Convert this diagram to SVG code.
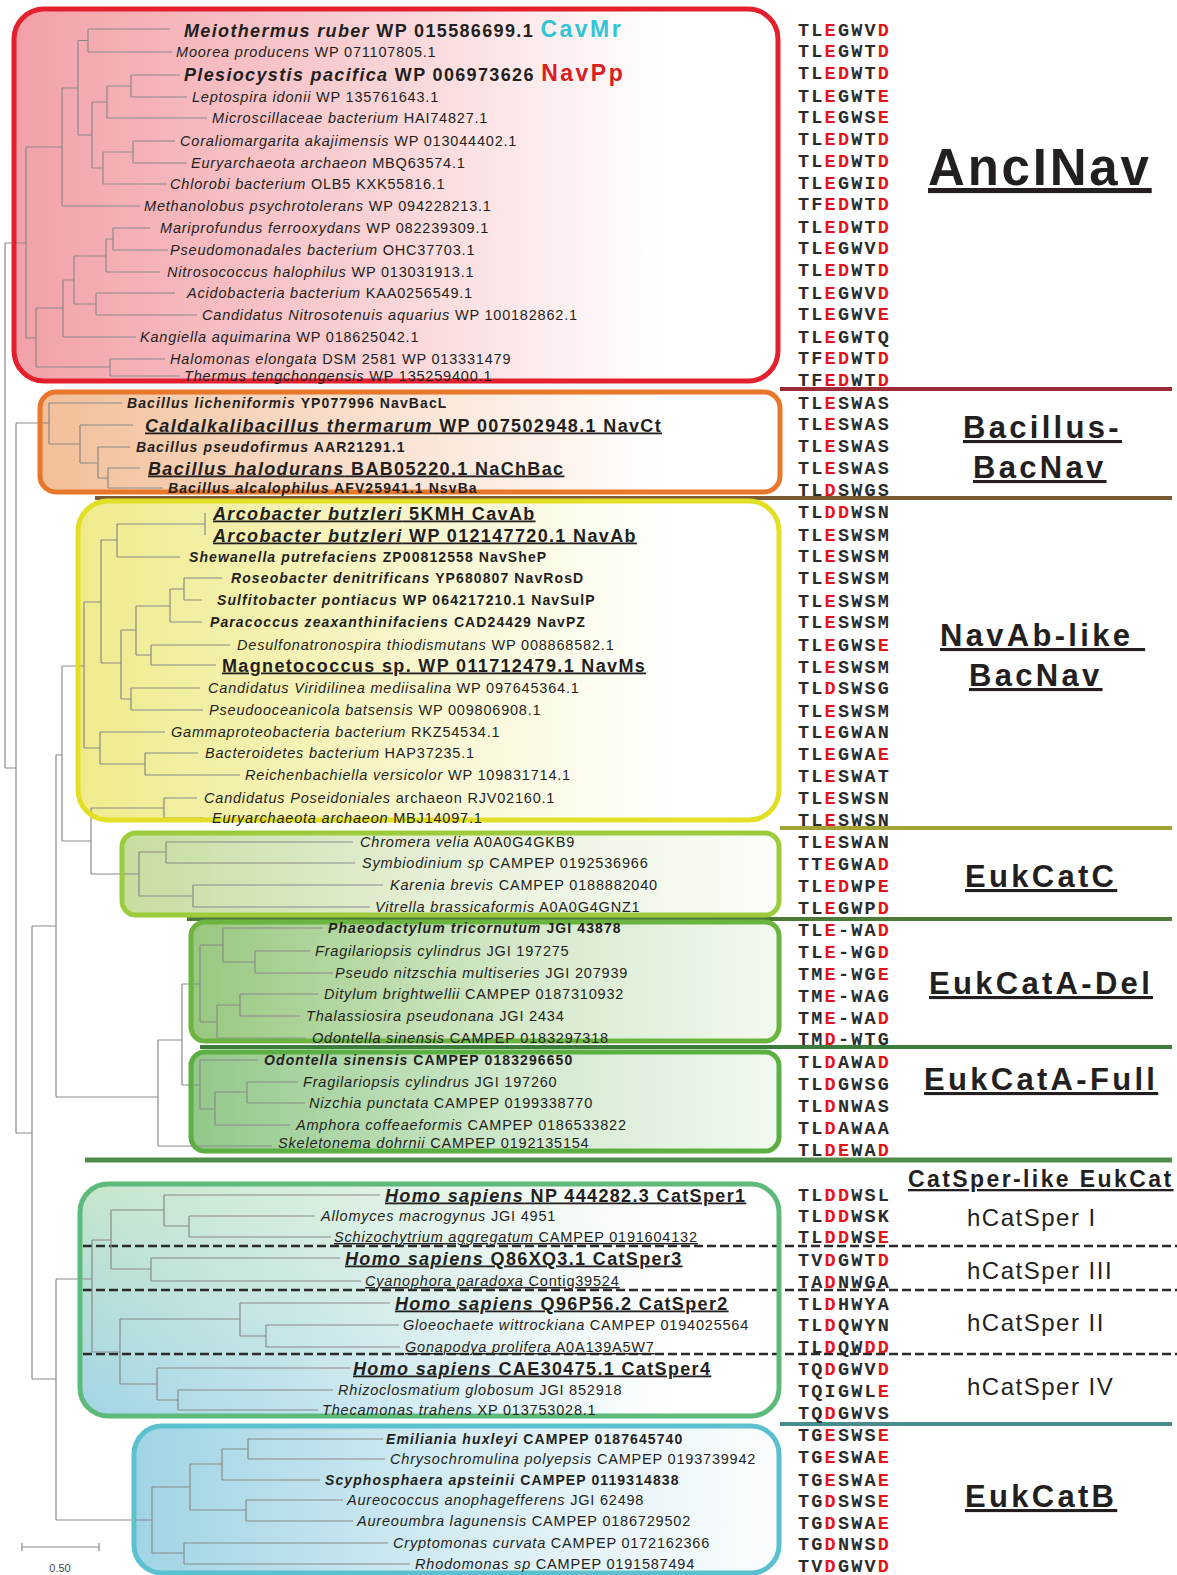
<svg xmlns="http://www.w3.org/2000/svg" width="1177" height="1575" viewBox="0 0 1177 1575">
<style>
.t{font-family:"Liberation Sans",Arial,sans-serif;font-size:14.5px;letter-spacing:0.8px;fill:#231f20}
.i{font-style:italic}
.b{font-weight:bold;font-size:14px;letter-spacing:1.1px}
.B{font-weight:bold;font-size:18px;letter-spacing:1.35px}
.u{text-decoration:underline}
.seq{font-family:"Liberation Mono","Courier New",monospace;font-weight:bold;font-size:18.5px;letter-spacing:2.2px;fill:#2b2b2b}
.r{fill:#e3141b}
.h{font-family:"Liberation Sans",Arial,sans-serif;font-weight:bold;fill:#231f20;text-decoration:underline;font-size:31px;letter-spacing:3.3px}
.hs{font-family:"Liberation Sans",Arial,sans-serif;fill:#231f20;font-size:24px;letter-spacing:1.5px}
.tree{stroke:#8a8a8a;stroke-width:1.2;fill:none}
.box{fill:none;stroke-width:5}
.sep{stroke-width:4}
.dash{stroke:#2b2b2b;stroke-width:2.5;stroke-dasharray:9 4}
</style>
<defs>
<linearGradient id="gAnc" x1="0" y1="0" x2="1" y2="0"><stop offset="0" stop-color="#f2a0a7"/><stop offset="0.5" stop-color="#f9d5d8"/><stop offset="0.85" stop-color="#ffffff"/></linearGradient>
<linearGradient id="gBac" x1="0" y1="0" x2="1" y2="0"><stop offset="0" stop-color="#f2bf98"/><stop offset="0.5" stop-color="#fae4d5"/><stop offset="0.85" stop-color="#ffffff"/></linearGradient>
<linearGradient id="gNav" x1="0" y1="0" x2="1" y2="0"><stop offset="0" stop-color="#efeb8c"/><stop offset="0.5" stop-color="#f8f6cf"/><stop offset="0.85" stop-color="#ffffff"/></linearGradient>
<linearGradient id="gC" x1="0" y1="0" x2="1" y2="0"><stop offset="0" stop-color="#c6dd9f"/><stop offset="0.5" stop-color="#e7f0d9"/><stop offset="1" stop-color="#fbfdf8"/></linearGradient>
<linearGradient id="gDel" x1="0" y1="0" x2="1" y2="0"><stop offset="0" stop-color="#98c87f"/><stop offset="0.55" stop-color="#d4e8c9"/><stop offset="1" stop-color="#f3f9f0"/></linearGradient>
<linearGradient id="gFull" x1="0" y1="0" x2="1" y2="0"><stop offset="0" stop-color="#92c889"/><stop offset="0.55" stop-color="#d0e8cc"/><stop offset="1" stop-color="#f3f9f1"/></linearGradient>
<linearGradient id="gCatV" x1="0" y1="0" x2="0" y2="1"><stop offset="0" stop-color="#c6e6cb"/><stop offset="1" stop-color="#a2d5e6"/></linearGradient>
<linearGradient id="gW" x1="0" y1="0" x2="1" y2="0"><stop offset="0" stop-color="#ffffff" stop-opacity="0"/><stop offset="0.3" stop-color="#ffffff" stop-opacity="0.3"/><stop offset="0.85" stop-color="#ffffff" stop-opacity="1"/></linearGradient>
<linearGradient id="gB" x1="0" y1="0" x2="1" y2="0"><stop offset="0" stop-color="#a0d4e4"/><stop offset="0.5" stop-color="#d5ecf3"/><stop offset="1" stop-color="#fbfdfe"/></linearGradient>
</defs>
<rect x="0" y="0" width="1177" height="1575" fill="#ffffff"/>

<g id="clade-fills">
<rect x="14" y="9" width="764" height="372" rx="30" fill="url(#gAnc)"/>
<rect x="40" y="392" width="740" height="100" rx="16" fill="url(#gBac)"/>
<rect x="78" y="501" width="701" height="319" rx="30" fill="url(#gNav)"/>
<rect x="122" y="833" width="657" height="82" rx="14" fill="url(#gC)"/>
<rect x="191" y="922" width="588" height="119" rx="14" fill="url(#gDel)"/>
<rect x="191" y="1052" width="588" height="99" rx="14" fill="url(#gFull)"/>
<rect x="80" y="1184" width="699" height="232" rx="28" fill="url(#gCatV)"/>
<rect x="80" y="1184" width="699" height="232" rx="28" fill="url(#gW)"/>
<rect x="134" y="1426" width="645" height="147" rx="28" fill="url(#gB)"/>
</g>

<g id="separators">
<line class="sep" x1="780" y1="389" x2="1172" y2="389" stroke="#9e2a36"/>
<line class="sep" x1="95" y1="498" x2="1172" y2="498" stroke="#7b5a33"/>
<line class="sep" x1="780" y1="828" x2="1172" y2="828" stroke="#a3a336"/>
<line class="sep" x1="187" y1="919" x2="1172" y2="919" stroke="#4b7b37"/>
<line class="sep" x1="200" y1="1047" x2="1172" y2="1047" stroke="#3b7b3b"/>
<line x1="85" y1="1160" x2="1172" y2="1160" stroke="#4e8e4a" stroke-width="5"/>
<line class="sep" x1="780" y1="1424" x2="1172" y2="1424" stroke="#4a8b8e"/>
<line class="dash" x1="83" y1="1246" x2="1177" y2="1246"/>
<line class="dash" x1="83" y1="1290" x2="1177" y2="1290"/>
<line class="dash" x1="83" y1="1354" x2="1177" y2="1354"/>
</g>

<g id="connectors">
<path class="tree" d="M88 29H170 M88 52H172 M88 29V52 M78 40.5H88 M131 75H180 M131 97H187 M131 75V97 M107 86H131 M107 118H207 M107 86V118 M92 102H107 M133 141H175 M133 163H187 M133 141V163 M103 152H133 M103 184H167 M103 152V184 M92 168H103 M92 102V168 M78 135H92 M78 40.5V135 M62 88H78 M62 206H140 M62 88V206 M26 147H62 M113 228H150 M113 250H168 M113 228V250 M106 239H113 M106 272H160 M106 239V272 M74 256H106 M96 293H175 M96 315H197 M96 293V315 M74 304H96 M74 256V304 M63 280H74 M63 337H136 M63 280V337 M36 308H63 M110 359H165 M110 376H180 M110 359V376 M36 367H110 M36 308V367 M26 338H36 M26 147V338 M5 243H26 M5 243V768 M5 768H16"/>
<path class="tree" d="M49 403H122 M80 425H133 M98 447H130 M108 468H140 M108 488H163 M108 468V488 M98 478H108 M98 447V478 M80 463H98 M80 425V463 M49 444H80 M49 403V444 M16 423H49 M16 423V1133"/>
<path class="tree" d="M205 513V535 M117 524H205 M117 557H180 M117 524V557 M101 540H117 M184 578H222 M184 600H202 M184 578V600 M170 589H184 M170 622H202 M170 589V622 M136 606H170 M151 645H230 M151 665H216 M151 645V665 M136 655H151 M136 606V655 M121 630H136 M131 688H200 M131 710H203 M131 688V710 M121 699H131 M121 630V699 M101 663H121 M101 540V663 M84 602H101 M100 732H165 M145 753H198 M145 775H240 M145 753V775 M100 764H145 M100 732V764 M84 748H100 M84 602V748 M62 666H84 M164 798H197 M164 818H203 M164 798V818 M91 808H164"/>
<path class="tree" d="M166 842H353 M166 863H355 M166 842V863 M139 852H166 M193 885H383 M193 907H370 M193 885V907 M139 896H193 M139 852V896 M91 874H139 M91 808V874 M62 841H91 M62 666V841 M56 755H62"/>
<path class="tree" d="M223 928H323 M255 951H310 M255 973H333 M255 951V973 M223 962H255 M223 928V962 M200 945H223 M240 994H318 M240 1016H300 M240 994V1016 M217 1005H240 M217 1038H305 M217 1005V1038 M200 1022H217 M200 945V1022 M182 984H200 M200 1060H258 M247 1082H298 M247 1103H305 M247 1082V1103 M215 1092H247 M215 1125H290 M215 1092V1125 M200 1109H215 M200 1060V1109 M182 1085H200 M182 984V1085 M158 1040H182 M158 1146H272 M158 1040V1146 M56 1097H158 M56 755V1097 M32 926H56 M32 926V1379 M16 1133H32"/>
<path class="tree" d="M164 1195H380 M189 1216H315 M189 1237H331 M189 1216V1237 M164 1226H189 M164 1195V1226 M111 1210H164 M151 1258H340 M151 1281H361 M151 1258V1281 M111 1269H151 M111 1210V1269 M92 1240H111 M240 1303H390 M266 1325H399 M266 1347H400 M266 1325V1347 M240 1336H266 M240 1303V1336 M120 1319H240 M157 1368H350 M178 1390H333 M178 1410H318 M178 1390V1410 M157 1400H178 M157 1368V1400 M120 1384H157 M120 1319V1384 M92 1352H120 M92 1240V1352 M56 1279H92"/>
<path class="tree" d="M248 1439H383 M248 1459H385 M248 1439V1459 M222 1449H248 M222 1480H320 M222 1449V1480 M190 1464H222 M246 1500H343 M246 1521H353 M246 1500V1521 M190 1510H246 M190 1464V1510 M152 1487H190 M184 1543H388 M184 1564H410 M184 1543V1564 M152 1553H184 M152 1487V1553 M56 1520H152 M56 1279V1520 M32 1379H56"/>
</g>

<g id="clade-borders">
<rect class="box" x="14" y="9" width="764" height="372" rx="30" stroke="#e4202e"/>
<rect class="box" x="40" y="392" width="740" height="100" rx="16" stroke="#e8772a"/>
<rect class="box" x="78" y="501" width="701" height="319" rx="30" stroke="#e3df26"/>
<rect class="box" x="122" y="833" width="657" height="82" rx="14" stroke="#9ccc3c"/>
<rect class="box" x="191" y="922" width="588" height="119" rx="14" stroke="#6bb440"/>
<rect class="box" x="191" y="1052" width="588" height="99" rx="14" stroke="#5caf42"/>
<rect class="box" x="80" y="1184" width="699" height="232" rx="28" stroke="#5dba7b"/>
<rect class="box" x="134" y="1426" width="645" height="147" rx="28" stroke="#5cc1ce"/>
</g>

<g id="leaves-AncINav">
<g id="n1"><text class="t B" x="184" y="36.5"><tspan class="i">Meiothermus ruber</tspan> WP 015586699.1 <tspan style="fill:#33c5d5;font-size:23px;letter-spacing:2.5px">CavMr</tspan></text></g>
<g id="n2"><text class="t" x="176" y="57"><tspan class="i">Moorea producens</tspan> WP 071107805.1</text></g>
<g id="n3"><text class="t B" x="184" y="80.5"><tspan class="i">Plesiocystis pacifica</tspan> WP 006973626 <tspan style="fill:#d9201f;font-size:23px;letter-spacing:2.5px">NavPp</tspan></text></g>
<g id="n4"><text class="t" x="192" y="102"><tspan class="i">Leptospira idonii</tspan> WP 135761643.1</text></g>
<g id="n5"><text class="t" x="212" y="123"><tspan class="i">Microscillaceae bacterium</tspan> HAI74827.1</text></g>
<g id="n6"><text class="t" x="180" y="146"><tspan class="i">Coraliomargarita akajimensis</tspan> WP 013044402.1</text></g>
<g id="n7"><text class="t" x="191" y="168"><tspan class="i">Euryarchaeota archaeon</tspan> MBQ63574.1</text></g>
<g id="n8"><text class="t" x="170" y="189"><tspan class="i">Chlorobi bacterium</tspan> OLB5 KXK55816.1</text></g>
<g id="n9"><text class="t" x="144" y="211"><tspan class="i">Methanolobus psychrotolerans</tspan> WP 094228213.1</text></g>
<g id="n10"><text class="t" x="160" y="233"><tspan class="i">Mariprofundus ferrooxydans</tspan> WP 082239309.1</text></g>
<g id="n11"><text class="t" x="170" y="255"><tspan class="i">Pseudomonadales bacterium</tspan> OHC37703.1</text></g>
<g id="n12"><text class="t" x="167" y="277"><tspan class="i">Nitrosococcus halophilus</tspan> WP 013031913.1</text></g>
<g id="n13"><text class="t" x="187" y="298"><tspan class="i">Acidobacteria bacterium</tspan> KAA0256549.1</text></g>
<g id="n14"><text class="t" x="202" y="320"><tspan class="i">Candidatus Nitrosotenuis aquarius</tspan> WP 100182862.1</text></g>
<g id="n15"><text class="t" x="140" y="342"><tspan class="i">Kangiella aquimarina</tspan> WP 018625042.1</text></g>
<g id="n16"><text class="t" x="170" y="364"><tspan class="i">Halomonas elongata</tspan> DSM 2581 WP 013331479</text></g>
<g id="n17"><text class="t" x="184" y="381"><tspan class="i">Thermus tengchongensis</tspan> WP 135259400.1</text></g>
</g>

<g id="leaves-Bacillus">
<g id="n18"><text class="t b" x="127" y="408"><tspan class="i">Bacillus licheniformis</tspan> YP077996 NavBacL</text></g>
<g id="n19"><text class="t B u" x="145" y="431.5"><tspan class="i">Caldalkalibacillus thermarum</tspan> WP 007502948.1 NavCt</text></g>
<g id="n20"><text class="t b" x="136" y="452"><tspan class="i">Bacillus pseudofirmus</tspan> AAR21291.1</text></g>
<g id="n21"><text class="t B u" x="148" y="474.5"><tspan class="i">Bacillus halodurans</tspan> BAB05220.1 NaChBac</text></g>
<g id="n22"><text class="t b" x="168" y="493"><tspan class="i">Bacillus alcalophilus</tspan> AFV25941.1 NsvBa</text></g>
</g>

<g id="leaves-NavAb">
<g id="n23"><text class="t B u" x="213" y="519.5"><tspan class="i">Arcobacter butzleri</tspan> 5KMH CavAb</text></g>
<g id="n24"><text class="t B u" x="213" y="541.5"><tspan class="i">Arcobacter butzleri</tspan> WP 012147720.1 NavAb</text></g>
<g id="n25"><text class="t b" x="189" y="562"><tspan class="i">Shewanella putrefaciens</tspan> ZP00812558 NavSheP</text></g>
<g id="n26"><text class="t b" x="231" y="583"><tspan class="i">Roseobacter denitrificans</tspan> YP680807 NavRosD</text></g>
<g id="n27"><text class="t b" x="217" y="605"><tspan class="i">Sulfitobacter pontiacus</tspan> WP 064217210.1 NavSulP</text></g>
<g id="n28"><text class="t b" x="210" y="627"><tspan class="i">Paracoccus zeaxanthinifaciens</tspan> CAD24429 NavPZ</text></g>
<g id="n29"><text class="t" x="237" y="650"><tspan class="i">Desulfonatronospira thiodismutans</tspan> WP 008868582.1</text></g>
<g id="n30"><text class="t B u" x="222" y="671.5">Magnetococcus sp. WP 011712479.1 NavMs</text></g>
<g id="n31"><text class="t" x="208" y="693"><tspan class="i">Candidatus Viridilinea mediisalina</tspan> WP 097645364.1</text></g>
<g id="n32"><text class="t" x="209" y="715"><tspan class="i">Pseudooceanicola batsensis</tspan> WP 009806908.1</text></g>
<g id="n33"><text class="t" x="171" y="737"><tspan class="i">Gammaproteobacteria bacterium</tspan> RKZ54534.1</text></g>
<g id="n34"><text class="t" x="205" y="758"><tspan class="i">Bacteroidetes bacterium</tspan> HAP37235.1</text></g>
<g id="n35"><text class="t" x="245" y="780"><tspan class="i">Reichenbachiella versicolor</tspan> WP 109831714.1</text></g>
<g id="n36"><text class="t" x="204" y="803"><tspan class="i">Candidatus Poseidoniales</tspan> archaeon RJV02160.1</text></g>
<g id="n37"><text class="t" x="212" y="823"><tspan class="i">Euryarchaeota archaeon</tspan> MBJ14097.1</text></g>
</g>

<g id="leaves-EukCatC">
<g id="n38"><text class="t" x="360" y="847"><tspan class="i">Chromera velia</tspan> A0A0G4GKB9</text></g>
<g id="n39"><text class="t" x="362" y="868"><tspan class="i">Symbiodinium sp</tspan> CAMPEP 0192536966</text></g>
<g id="n40"><text class="t" x="390" y="890"><tspan class="i">Karenia brevis</tspan> CAMPEP 0188882040</text></g>
<g id="n41"><text class="t" x="375" y="912"><tspan class="i">Vitrella brassicaformis</tspan> A0A0G4GNZ1</text></g>
</g>

<g id="leaves-EukCatA">
<g id="n42"><text class="t b" x="328" y="933"><tspan class="i">Phaeodactylum tricornutum</tspan> JGI 43878</text></g>
<g id="n43"><text class="t" x="315" y="956"><tspan class="i">Fragilariopsis cylindrus</tspan> JGI 197275</text></g>
<g id="n44"><text class="t" x="335" y="978"><tspan class="i">Pseudo nitzschia multiseries</tspan> JGI 207939</text></g>
<g id="n45"><text class="t" x="324" y="999"><tspan class="i">Ditylum brightwellii</tspan> CAMPEP 0187310932</text></g>
<g id="n46"><text class="t" x="306" y="1021"><tspan class="i">Thalassiosira pseudonana</tspan> JGI 2434</text></g>
<g id="n47"><text class="t" x="312" y="1043"><tspan class="i">Odontella sinensis</tspan> CAMPEP 0183297318</text></g>
<g id="n48"><text class="t b" x="264" y="1065"><tspan class="i">Odontella sinensis</tspan> CAMPEP 0183296650</text></g>
<g id="n49"><text class="t" x="303" y="1087"><tspan class="i">Fragilariopsis cylindrus</tspan> JGI 197260</text></g>
<g id="n50"><text class="t" x="309" y="1108"><tspan class="i">Nizchia punctata</tspan> CAMPEP 0199338770</text></g>
<g id="n51"><text class="t" x="296" y="1130"><tspan class="i">Amphora coffeaeformis</tspan> CAMPEP 0186533822</text></g>
<g id="n52"><text class="t" x="278" y="1148"><tspan class="i">Skeletonema dohrnii</tspan> CAMPEP 0192135154</text></g>
</g>

<g id="leaves-CatSper">
<g id="n53"><text class="t B u" x="385" y="1201.5"><tspan class="i">Homo sapiens</tspan> NP 444282.3 CatSper1</text></g>
<g id="n54"><text class="t" x="321" y="1221"><tspan class="i">Allomyces macrogynus</tspan> JGI 4951</text></g>
<g id="n55"><text class="t u" x="334" y="1242"><tspan class="i">Schizochytrium aggregatum</tspan> CAMPEP 0191604132</text></g>
<g id="n56"><text class="t B u" x="345" y="1264.5"><tspan class="i">Homo sapiens</tspan> Q86XQ3.1 CatSper3</text></g>
<g id="n57"><text class="t u" x="365" y="1286"><tspan class="i">Cyanophora paradoxa</tspan> Contig39524</text></g>
<g id="n58"><text class="t B u" x="395" y="1309.5"><tspan class="i">Homo sapiens</tspan> Q96P56.2 CatSper2</text></g>
<g id="n59"><text class="t" x="403" y="1330"><tspan class="i">Gloeochaete wittrockiana</tspan> CAMPEP 0194025564</text></g>
<g id="n60"><text class="t u" x="405" y="1352"><tspan class="i">Gonapodya prolifera</tspan> A0A139A5W7</text></g>
<g id="n61"><text class="t B u" x="353" y="1374.5"><tspan class="i">Homo sapiens</tspan> CAE30475.1 CatSper4</text></g>
<g id="n62"><text class="t" x="338" y="1395"><tspan class="i">Rhizoclosmatium globosum</tspan> JGI 852918</text></g>
<g id="n63"><text class="t" x="322" y="1415"><tspan class="i">Thecamonas trahens</tspan> XP 013753028.1</text></g>
</g>

<g id="leaves-EukCatB">
<g id="n64"><text class="t b" x="386" y="1444"><tspan class="i">Emiliania huxleyi</tspan> CAMPEP 0187645740</text></g>
<g id="n65"><text class="t" x="390" y="1464"><tspan class="i">Chrysochromulina polyepsis</tspan> CAMPEP 0193739942</text></g>
<g id="n66"><text class="t b" x="325" y="1485"><tspan class="i">Scyphosphaera apsteinii</tspan> CAMPEP 0119314838</text></g>
<g id="n67"><text class="t" x="347" y="1505"><tspan class="i">Aureococcus anophagefferens</tspan> JGI 62498</text></g>
<g id="n68"><text class="t" x="357" y="1526"><tspan class="i">Aureoumbra lagunensis</tspan> CAMPEP 0186729502</text></g>
<g id="n69"><text class="t" x="393" y="1548"><tspan class="i">Cryptomonas curvata</tspan> CAMPEP 0172162366</text></g>
<g id="n70"><text class="t" x="415" y="1569"><tspan class="i">Rhodomonas sp</tspan> CAMPEP 0191587494</text></g>
</g>

<g id="sequences" class="seq">
<text x="798" y="36">TL<tspan class="r">E</tspan>GWV<tspan class="r">D</tspan></text>
<text x="798" y="57">TL<tspan class="r">E</tspan>GWT<tspan class="r">D</tspan></text>
<text x="798" y="79">TL<tspan class="r">ED</tspan>WT<tspan class="r">D</tspan></text>
<text x="798" y="102">TL<tspan class="r">E</tspan>GWT<tspan class="r">E</tspan></text>
<text x="798" y="123">TL<tspan class="r">E</tspan>GWS<tspan class="r">E</tspan></text>
<text x="798" y="145">TL<tspan class="r">ED</tspan>WT<tspan class="r">D</tspan></text>
<text x="798" y="167">TL<tspan class="r">ED</tspan>WT<tspan class="r">D</tspan></text>
<text x="798" y="189">TL<tspan class="r">E</tspan>GWI<tspan class="r">D</tspan></text>
<text x="798" y="210">TF<tspan class="r">ED</tspan>WT<tspan class="r">D</tspan></text>
<text x="798" y="233">TL<tspan class="r">ED</tspan>WT<tspan class="r">D</tspan></text>
<text x="798" y="254">TL<tspan class="r">E</tspan>GWV<tspan class="r">D</tspan></text>
<text x="798" y="276">TL<tspan class="r">ED</tspan>WT<tspan class="r">D</tspan></text>
<text x="798" y="299">TL<tspan class="r">E</tspan>GWV<tspan class="r">D</tspan></text>
<text x="798" y="320">TL<tspan class="r">E</tspan>GWV<tspan class="r">E</tspan></text>
<text x="798" y="343">TL<tspan class="r">E</tspan>GWTQ</text>
<text x="798" y="364">TF<tspan class="r">ED</tspan>WT<tspan class="r">D</tspan></text>
<text x="798" y="386">TF<tspan class="r">ED</tspan>WT<tspan class="r">D</tspan></text>
<text x="798" y="409">TL<tspan class="r">E</tspan>SWAS</text>
<text x="798" y="430">TL<tspan class="r">E</tspan>SWAS</text>
<text x="798" y="452">TL<tspan class="r">E</tspan>SWAS</text>
<text x="798" y="474">TL<tspan class="r">E</tspan>SWAS</text>
<text x="798" y="496">TL<tspan class="r">D</tspan>SWGS</text>
<text x="798" y="518">TL<tspan class="r">DD</tspan>WSN</text>
<text x="798" y="541">TL<tspan class="r">E</tspan>SWSM</text>
<text x="798" y="562">TL<tspan class="r">E</tspan>SWSM</text>
<text x="798" y="584">TL<tspan class="r">E</tspan>SWSM</text>
<text x="798" y="607">TL<tspan class="r">E</tspan>SWSM</text>
<text x="798" y="628">TL<tspan class="r">E</tspan>SWSM</text>
<text x="798" y="651">TL<tspan class="r">E</tspan>GWS<tspan class="r">E</tspan></text>
<text x="798" y="673">TL<tspan class="r">E</tspan>SWSM</text>
<text x="798" y="694">TL<tspan class="r">D</tspan>SWSG</text>
<text x="798" y="717">TL<tspan class="r">E</tspan>SWSM</text>
<text x="798" y="738">TL<tspan class="r">E</tspan>GWAN</text>
<text x="798" y="760">TL<tspan class="r">E</tspan>GWA<tspan class="r">E</tspan></text>
<text x="798" y="782">TL<tspan class="r">E</tspan>SWAT</text>
<text x="798" y="804">TL<tspan class="r">E</tspan>SWSN</text>
<text x="798" y="826">TL<tspan class="r">E</tspan>SWSN</text>
<text x="798" y="848">TL<tspan class="r">E</tspan>SWAN</text>
<text x="798" y="870">TT<tspan class="r">E</tspan>GWA<tspan class="r">D</tspan></text>
<text x="798" y="892">TL<tspan class="r">ED</tspan>WP<tspan class="r">E</tspan></text>
<text x="798" y="914">TL<tspan class="r">E</tspan>GWP<tspan class="r">D</tspan></text>
<text x="798" y="936">TL<tspan class="r">E</tspan>-WA<tspan class="r">D</tspan></text>
<text x="798" y="958">TL<tspan class="r">E</tspan>-WG<tspan class="r">D</tspan></text>
<text x="798" y="980">TM<tspan class="r">E</tspan>-WG<tspan class="r">E</tspan></text>
<text x="798" y="1002">TM<tspan class="r">E</tspan>-WAG</text>
<text x="798" y="1024">TM<tspan class="r">E</tspan>-WA<tspan class="r">D</tspan></text>
<text x="798" y="1045">TM<tspan class="r">D</tspan>-WTG</text>
<text x="798" y="1068">TL<tspan class="r">D</tspan>AWA<tspan class="r">D</tspan></text>
<text x="798" y="1090">TL<tspan class="r">D</tspan>GWSG</text>
<text x="798" y="1112">TL<tspan class="r">D</tspan>NWAS</text>
<text x="798" y="1134">TL<tspan class="r">D</tspan>AWAA</text>
<text x="798" y="1156">TL<tspan class="r">DE</tspan>WA<tspan class="r">D</tspan></text>
<text x="798" y="1201">TL<tspan class="r">DD</tspan>WSL</text>
<text x="798" y="1222">TL<tspan class="r">DD</tspan>WSK</text>
<text x="798" y="1243">TL<tspan class="r">DD</tspan>WS<tspan class="r">E</tspan></text>
<text x="798" y="1266">TV<tspan class="r">D</tspan>GWT<tspan class="r">D</tspan></text>
<text x="798" y="1288">TA<tspan class="r">D</tspan>NWGA</text>
<text x="798" y="1310">TL<tspan class="r">D</tspan>HWYA</text>
<text x="798" y="1331">TL<tspan class="r">D</tspan>QWYN</text>
<text x="798" y="1353">TL<tspan class="r">D</tspan>QW<tspan class="r">DD</tspan></text>
<text x="798" y="1375">TQ<tspan class="r">D</tspan>GWV<tspan class="r">D</tspan></text>
<text x="798" y="1397">TQIGWL<tspan class="r">E</tspan></text>
<text x="798" y="1419">TQ<tspan class="r">D</tspan>GWVS</text>
<text x="798" y="1441">TG<tspan class="r">E</tspan>SWS<tspan class="r">E</tspan></text>
<text x="798" y="1463">TG<tspan class="r">E</tspan>SWA<tspan class="r">E</tspan></text>
<text x="798" y="1486">TG<tspan class="r">E</tspan>SWA<tspan class="r">E</tspan></text>
<text x="798" y="1507">TG<tspan class="r">D</tspan>SWS<tspan class="r">E</tspan></text>
<text x="798" y="1529">TG<tspan class="r">D</tspan>SWA<tspan class="r">E</tspan></text>
<text x="798" y="1550">TG<tspan class="r">D</tspan>NWS<tspan class="r">D</tspan></text>
<text x="798" y="1572">TV<tspan class="r">D</tspan>GWV<tspan class="r">D</tspan></text>
</g>

<g id="clade-titles">
<text class="h" x="928" y="185" style="font-size:51px;letter-spacing:2.8px">AncINav</text>
<text class="h" x="963" y="438">Bacillus-</text>
<text class="h" x="973" y="478">BacNav</text>
<text class="h" x="940" y="646">NavAb-like&#160;</text>
<text class="h" x="969" y="686">BacNav</text>
<text class="h" x="965" y="887">EukCatC</text>
<text class="h" x="929" y="994">EukCatA-Del</text>
<text class="h" x="924" y="1090">EukCatA-Full</text>
<text class="h" x="908" y="1187" style="font-size:23px;letter-spacing:2.4px">CatSper-like EukCat</text>
<text class="hs" x="967" y="1226">hCatSper I</text>
<text class="hs" x="967" y="1279">hCatSper III</text>
<text class="hs" x="967" y="1331">hCatSper II</text>
<text class="hs" x="967" y="1395">hCatSper IV</text>
<text class="h" x="965" y="1507">EukCatB</text>
</g>

<g id="scale-bar">
<path class="tree" d="M22 1547H99 M22 1543V1551 M99 1543V1551"/>
<text x="60" y="1572" text-anchor="middle" style="font-family:'Liberation Sans',Arial,sans-serif;font-size:11px;fill:#444">0.50</text>
</g>
</svg>
